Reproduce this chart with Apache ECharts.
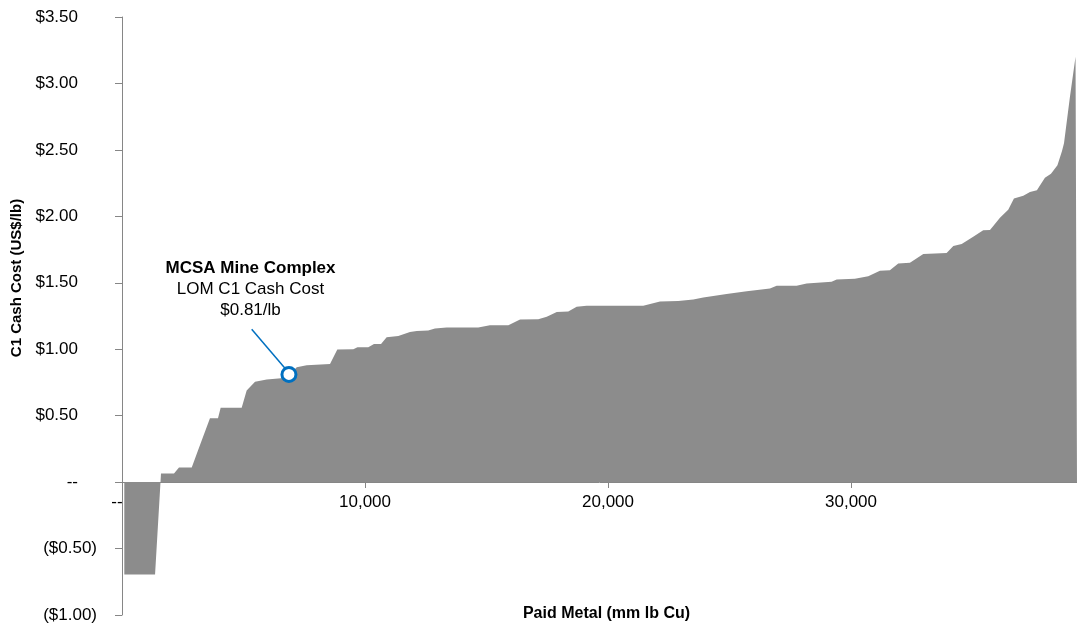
<!DOCTYPE html>
<html>
<head>
<meta charset="utf-8">
<script src="https://cdn.jsdelivr.net/npm/echarts@6/dist/echarts.min.js"></script>
<style>
html,body{margin:0;padding:0;background:#fff;}
#chart{width:1077px;height:628px;}
</style>
</head>
<body>
<div id="chart"></div>
<script>
// Cumulative paid metal (mm lb Cu) vs C1 cash cost (US$/lb)
const curveX = [95, 1360, 1605, 2140, 2345, 2870, 3130, 3620, 3950, 4060, 4925, 5130, 5475, 5955, 6780, 7190, 7600, 8560, 8860, 9520, 9690, 10135, 10370, 10660, 10890, 11370, 11850, 12130, 12600, 12880, 13360, 14660, 15140, 15900, 16380, 17130, 17480, 17890, 18365, 18710, 19120, 21450, 22140, 22890, 23510, 23920, 24880, 25710, 26665, 26940, 27760, 28175, 29200, 29410, 30160, 30710, 31190, 31600, 31945, 32425, 32975, 33935, 34210, 34555, 35030, 35440, 35720, 36130, 36470, 36705, 37090, 37365, 37650, 37980, 38230, 38495, 38680, 38765, 39010, 39240, 39300];
const curveY = [-0.695, -0.695, 0.065, 0.065, 0.11, 0.11, 0.24, 0.48, 0.48, 0.56, 0.56, 0.69, 0.755, 0.773, 0.785, 0.865, 0.88, 0.888, 0.998, 1.0, 1.015, 1.015, 1.04, 1.04, 1.09, 1.1, 1.13, 1.138, 1.14, 1.156, 1.164, 1.164, 1.181, 1.181, 1.224, 1.226, 1.244, 1.281, 1.283, 1.319, 1.327, 1.328, 1.36, 1.362, 1.375, 1.39, 1.415, 1.437, 1.457, 1.477, 1.478, 1.495, 1.507, 1.525, 1.53, 1.55, 1.59, 1.595, 1.645, 1.65, 1.716, 1.725, 1.776, 1.791, 1.846, 1.896, 1.898, 1.99, 2.05, 2.135, 2.154, 2.184, 2.197, 2.29, 2.32, 2.385, 2.49, 2.55, 2.9, 3.2, 3.2];

const markerPoint = [6870, 0.81];           // MCSA Mine Complex LOM C1 cash cost
const leaderStart = [5337, 1.151];
const leaderEnd = [6707, 0.856];
const labelAnchor = [5288, 1.448];
const annotationLines = ['MCSA Mine Complex', 'LOM C1 Cash Cost', '$0.81/lb'];

const xTickValues = [0, 10000, 20000, 30000];
const xMin = 0, xMax = 39300;
const yMin = -1, yMax = 3.5, yInterval = 0.5;

const xAxisName = 'Paid Metal (mm lb Cu)';
const yAxisName = 'C1 Cash Cost (US$/lb)';

const FONT = '"Liberation Sans", Arial, sans-serif';
const curveData = curveX.map((x, i) => [x, curveY[i]]);

function fmtX(v) {
  if (v === 0) return '{z|--}';
  return '{t|' + v.toLocaleString('en-US') + '}';
}
function fmtY(v) {
  const r = Math.round(v * 100) / 100;
  if (r === 0) return '{p|--}';
  if (r < 0) return '{n|($' + Math.abs(r).toFixed(2) + ')}';
  return '{p|$' + r.toFixed(2) + '}';
}

const chart = echarts.init(document.getElementById('chart'), null, {renderer: 'canvas'});
chart.setOption({
  animation: false,
  backgroundColor: '#ffffff',
  grid: {left: 122, right: 0, top: 17, bottom: 13, containLabel: false, outerBoundsMode: 'none'},
  xAxis: {
    type: 'value', min: xMin, max: xMax,
    offset: -133,
    splitLine: {show: false},
    axisLine: {onZero: false, lineStyle: {color: '#868686', width: 1}},
    axisTick: {show: true, length: 6, customValues: xTickValues, lineStyle: {color: '#868686'}},
    axisLabel: {
      customValues: xTickValues, formatter: fmtX, margin: 12,
      rich: {
        t: {fontFamily: FONT, fontSize: 17, color: '#000'},
        z: {fontFamily: FONT, fontSize: 17, color: '#000', padding: [0, 10, 0, 0]}
      }
    },
    name: xAxisName, nameLocation: 'middle', nameGap: 124,
    nameTextStyle: {fontFamily: FONT, fontSize: 16, fontWeight: 'bold', color: '#000', padding: [0, 0, 0, 14]}
  },
  yAxis: {
    type: 'value', min: yMin, max: yMax, interval: yInterval,
    splitLine: {show: false},
    axisLine: {onZero: false, lineStyle: {color: '#868686', width: 1}},
    axisTick: {show: true, length: 7, lineStyle: {color: '#868686'}},
    axisLabel: {
      formatter: fmtY, margin: 25,
      rich: {
        p: {fontFamily: FONT, fontSize: 17, color: '#000', padding: [0, 19, 0, 0]},
        n: {fontFamily: FONT, fontSize: 17, color: '#000'}
      }
    },
    name: yAxisName, nameLocation: 'middle', nameGap: 93, nameRotate: 90,
    nameTextStyle: {fontFamily: FONT, fontSize: 15, fontWeight: 'bold', color: '#000', padding: [0, 0, 0, 76]}
  },
  series: [
    {
      type: 'line', name: 'cost curve', data: curveData,
      showSymbol: false, symbol: 'none',
      lineStyle: {width: 0, color: '#8c8c8c'},
      areaStyle: {color: '#8c8c8c', opacity: 1},
      z: 2
    },
    {
      type: 'line', name: 'leader', data: [leaderStart, leaderEnd],
      showSymbol: false, symbol: 'none',
      lineStyle: {width: 1.5, color: '#0070c0'},
      z: 4, silent: true
    },
    {
      type: 'scatter', name: 'MCSA', data: [markerPoint],
      symbol: 'circle', symbolSize: 14,
      itemStyle: {color: '#ffffff', borderColor: '#0070c0', borderWidth: 3, opacity: 1},
      z: 5
    },
    {
      type: 'scatter', name: 'annotation', data: [labelAnchor],
      symbolSize: 0,
      itemStyle: {opacity: 1},
      label: {
        show: true, position: 'inside', align: 'center', verticalAlign: 'middle',
        color: '#000', textBorderWidth: 0, opacity: 1,
        formatter: '{b|' + annotationLines[0] + '}\n{n|' + annotationLines[1] + '}\n{n|' + annotationLines[2] + '}',
        rich: {
          b: {fontFamily: FONT, fontSize: 17, fontWeight: 'bold', color: '#000', lineHeight: 21, align: 'center'},
          n: {fontFamily: FONT, fontSize: 17, color: '#000', lineHeight: 21, align: 'center'}
        }
      },
      emphasis: {disabled: true},
      z: 6
    }
  ]
});
</script>
</body>
</html>
